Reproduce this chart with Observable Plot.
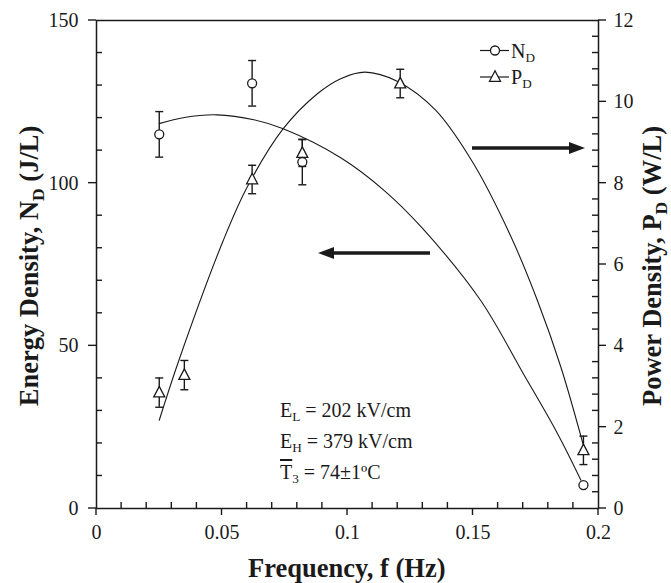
<!DOCTYPE html>
<html>
<head>
<meta charset="utf-8">
<script src="https://cdn.jsdelivr.net/npm/d3@7"></script>
<script src="https://cdn.jsdelivr.net/npm/@observablehq/plot@0.6"></script>
<style>
  html, body { margin: 0; padding: 0; background: #fff; }
  svg { display: block; }
</style>
</head>
<body>
<div id="chart"></div>
<script>
// ---- data ----
// Energy density N_D (J/L), left axis
const freqN   = [0.025, 0.062, 0.082, 0.194];
const energyN = [115, 130.7, 106.5, 7.2];
const errN    = [7, 7, 7, 0];
// Power density P_D (W/L), right axis
const freqP  = [0.025, 0.035, 0.062, 0.082, 0.121, 0.194];
const powerP = [2.85, 3.28, 8.09, 8.74, 10.45, 1.43];
const errP   = [0.36, 0.36, 0.35, 0.33, 0.35, 0.35];
// fitted curves
const fitNx = [0.025, 0.035, 0.048, 0.0627, 0.0744, 0.0973, 0.115, 0.13, 0.153, 0.170, 0.1837, 0.193];
const fitNy = [118.3, 120.2, 121.0, 119.5, 116.7, 107.8, 97.5, 86, 64, 41.5, 23, 8.7];
const fitPx = [0.025, 0.0328, 0.0505, 0.060, 0.0744, 0.088, 0.0973, 0.107, 0.12, 0.135, 0.15, 0.165, 0.1757, 0.185, 0.194];
const fitPy = [2.17, 3.64, 6.59, 7.90, 9.34, 10.2, 10.57, 10.73, 10.5, 9.8, 8.5, 6.7, 5.11, 3.48, 1.55];
// ticks
const xTicks = [0, 0.05, 0.1, 0.15, 0.2];
const xTickLabels = ["0", "0.05", "0.1", "0.15", "0.2"];
const yLeftTicks = [0, 50, 100, 150];
const yRightTicks = [0, 2, 4, 6, 8, 10, 12];
const xMinorStep = 0.01, yLeftMinorStep = 10, yRightMinorStep = 0.4;

// ---- build tables ----
const K = 150 / 12; // right-axis units -> left-axis units
const ptsN = freqN.map((f, i) => ({f, v: energyN[i], e: errN[i]}));
const ptsP = freqP.map((f, i) => ({f, v: powerP[i] * K, e: errP[i] * K}));
const fitN = fitNx.map((f, i) => ({f, v: fitNy[i]}));
const fitP = fitPx.map((f, i) => ({f, v: fitPy[i] * K}));
const isMult = (v, m) => Math.abs(v / m - Math.round(v / m)) < 1e-6;
const xMinor = d3.range(1, 20).map(i => i * xMinorStep).filter(v => !isMult(v, 0.05));
const yLMinor = d3.range(1, 15).map(i => i * yLeftMinorStep).filter(v => !isMult(v, 50));
const yRMinor = d3.range(1, 30).map(i => i * yRightMinorStep).filter(v => !isMult(v, 2)).map(v => v * K);

// ---- custom symbols ----
const sym = (fn) => ({draw(ctx) { fn(ctx); }});
const cap = sym(c => { c.moveTo(-4, 0); c.lineTo(4, 0); });
const circ = sym(c => { c.moveTo(4.5, 0); c.arc(0, 0, 4.5, 0, 2 * Math.PI); });
const tri = sym(c => { c.moveTo(0, -6.2); c.lineTo(5.5, 4.3); c.lineTo(-5.5, 4.3); c.closePath(); });

const ink = "#1a1a1a";
const font = "Liberation Serif, Times New Roman, serif";

const plot = Plot.plot({
  width: 671,
  height: 583,
  marginLeft: 96,
  marginRight: 73,
  marginTop: 20,
  marginBottom: 75,
  style: {fontFamily: font, fontSize: "20px", color: ink, background: "#fff"},
  x: {domain: [0, 0.2]},
  y: {domain: [0, 150]},
  marks: [
    Plot.frame({stroke: ink, strokeWidth: 1.5}),
    // axes (tick marks drawn below)
    Plot.axisX({ticks: xTicks, tickFormat: (d) => xTickLabels[xTicks.indexOf(d)], tickSize: 0, tickPadding: 16, label: null, fontSize: 20}),
    Plot.axisY({ticks: yLeftTicks, tickSize: 0, tickPadding: 18, label: null, fontSize: 20}),
    Plot.axisY({anchor: "right", ticks: yRightTicks.map(v => v * K), tickFormat: d => String(Math.round(d / K)), tickSize: 0, tickPadding: 15, label: null, fontSize: 20}),
    // fitted curves
    Plot.line(fitN, {x: "f", y: "v", curve: "catmull-rom", stroke: ink, strokeWidth: 1.1}),
    Plot.line(fitP, {x: "f", y: "v", curve: "catmull-rom", stroke: ink, strokeWidth: 1.1}),
    // error bars
    Plot.ruleX(ptsN.filter(d => d.e > 0), {x: "f", y1: d => d.v - d.e, y2: d => d.v + d.e, stroke: ink, strokeWidth: 1.4}),
    Plot.dot(ptsN.filter(d => d.e > 0), {x: "f", y: d => d.v - d.e, symbol: cap, stroke: ink, strokeWidth: 1.4}),
    Plot.dot(ptsN.filter(d => d.e > 0), {x: "f", y: d => d.v + d.e, symbol: cap, stroke: ink, strokeWidth: 1.4}),
    Plot.ruleX(ptsP, {x: "f", y1: d => d.v - d.e, y2: d => d.v + d.e, stroke: ink, strokeWidth: 1.4}),
    Plot.dot(ptsP, {x: "f", y: d => d.v - d.e, symbol: cap, stroke: ink, strokeWidth: 1.4}),
    Plot.dot(ptsP, {x: "f", y: d => d.v + d.e, symbol: cap, stroke: ink, strokeWidth: 1.4}),
    // points
    Plot.dot(ptsP, {x: "f", y: "v", symbol: tri, fill: "#fff", stroke: ink, strokeWidth: 1.3}),
    Plot.dot(ptsN, {x: "f", y: "v", symbol: circ, fill: "#fff", stroke: ink, strokeWidth: 1.3})
  ]
});

document.getElementById("chart").appendChild(plot);

const svg = d3.select(plot);
const sx = plot.scale("x"), sy = plot.scale("y");
const X = v => sx.apply(v), Y = v => sy.apply(v);

// ---- tick marks: majors outward, minors inward ----
const tg = svg.append("g").attr("stroke", ink).attr("stroke-width", 1.4);
const seg = (x1, y1, x2, y2) => tg.append("line").attr("x1", x1).attr("y1", y1).attr("x2", x2).attr("y2", y2);
xMinor.forEach(v => seg(X(v), Y(0), X(v), Y(0) - 6));
xTicks.forEach(v => seg(X(v), Y(0), X(v), Y(0) + 7));
yLMinor.forEach(v => seg(X(0), Y(v), X(0) + 6, Y(v)));
yLeftTicks.forEach(v => seg(X(0) - 8, Y(v), X(0), Y(v)));
yRMinor.forEach(v => seg(X(0.2) - 6, Y(v), X(0.2), Y(v)));
yRightTicks.forEach(v => seg(X(0.2), Y(v * K), X(0.2) + 8, Y(v * K)));

// ---- annotations, titles and legend ----
const g = svg.append("g").attr("font-family", font).attr("fill", ink);

function richText(parent, x, y, parts, opt = {}) {
  const size = opt.size || 20;
  const t = parent.append("text").attr("x", x).attr("y", y)
    .attr("font-size", size)
    .attr("font-weight", opt.weight || "normal")
    .attr("text-anchor", opt.anchor || "start");
  if (opt.rotate) t.attr("transform", `rotate(${opt.rotate} ${x} ${y})`);
  let shifted = false;
  for (const p of parts) {
    const s = t.append("tspan").text(p.t);
    if (p.sub) {
      s.attr("font-size", size * 0.66).attr("dy", shifted ? 0 : size * 0.22);
      shifted = true;
    } else {
      if (shifted) s.attr("dy", -size * 0.22);
      shifted = false;
    }
    if (p.over) s.style("text-decoration", "overline");
  }
  return t;
}

// axis titles
richText(g, 346.8, 577, [{t: "Frequency, f (Hz)"}], {size: 26.5, weight: "bold", anchor: "middle"});
richText(g, 38, 266, [{t: "Energy Density, N"}, {t: "D", sub: true}, {t: " (J/L)"}], {size: 26.5, weight: "bold", anchor: "middle", rotate: -90});
richText(g, 661, 266, [{t: "Power Density, P"}, {t: "D", sub: true}, {t: " (W/L)"}], {size: 26.5, weight: "bold", anchor: "middle", rotate: -90});

// conditions
richText(g, 280, 417, [{t: "E"}, {t: "L", sub: true}, {t: " = 202 kV/cm"}]);
richText(g, 280, 448, [{t: "E"}, {t: "H", sub: true}, {t: " = 379 kV/cm"}]);
richText(g, 280, 479, [{t: "T", over: true}, {t: "3", sub: true}, {t: " = 74±1ºC"}]);

// legend
const lg = g.append("g");
lg.append("line").attr("x1", 480).attr("x2", 509).attr("y1", 50.5).attr("y2", 50.5).attr("stroke", ink).attr("stroke-width", 1.2);
lg.append("path").attr("transform", "translate(495,50.5)").attr("d", d3.symbol(circ)()).attr("fill", "#fff").attr("stroke", ink).attr("stroke-width", 1.3);
richText(lg, 511, 58, [{t: "N"}, {t: "D", sub: true}]);
lg.append("line").attr("x1", 480).attr("x2", 509).attr("y1", 77).attr("y2", 77).attr("stroke", ink).attr("stroke-width", 1.2);
lg.append("path").attr("transform", "translate(495,77)").attr("d", d3.symbol(tri)()).attr("fill", "#fff").attr("stroke", ink).attr("stroke-width", 1.3);
richText(lg, 511, 84, [{t: "P"}, {t: "D", sub: true}]);

// arrows pointing to the axes
function arrow(x1, x2, y) {
  const dir = Math.sign(x2 - x1), hl = 16, hw = 6;
  g.append("line").attr("x1", x1).attr("x2", x2 - dir * hl + dir).attr("y1", y).attr("y2", y)
    .attr("stroke", ink).attr("stroke-width", 3.5);
  g.append("path").attr("d", `M${x2},${y}L${x2 - dir * hl},${y - hw}L${x2 - dir * hl},${y + hw}Z`).attr("fill", ink);
}
arrow(430, 318, 253);
arrow(472, 585, 148);
</script>
</body>
</html>
